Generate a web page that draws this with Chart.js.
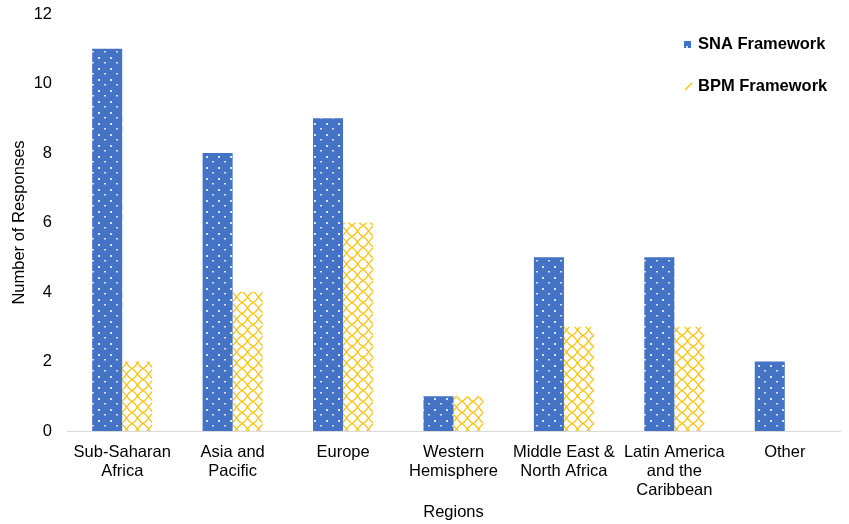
<!DOCTYPE html>
<html>
<head>
<meta charset="utf-8">
<script src="https://cdn.jsdelivr.net/npm/chart.js@4/dist/chart.umd.min.js"></script>
<style>
  html, body { margin: 0; padding: 0; background: #fff; }
  #wrap { width: 849px; height: 524px; }
</style>
</head>
<body>
<div id="wrap"><canvas id="regionChart"></canvas></div>
<script>
const regions = [
    ['Sub-Saharan', 'Africa'],
    ['Asia and', 'Pacific'],
    'Europe',
    ['Western', 'Hemisphere'],
    ['Middle East &', 'North Africa'],
    ['Latin America', 'and the', 'Caribbean'],
    'Other'
];
const snaValues = [11, 8, 9, 1, 5, 5, 2];
const bpmValues = [2, 4, 6, 1, 3, 3, 0];
const seriesNames = ['SNA Framework', 'BPM Framework'];

const FONT = '"Liberation Sans", Arial, sans-serif';

// dotted blue fill
function dotPattern() {
    const c = document.createElement('canvas');
    c.width = 12; c.height = 11;
    const g = c.getContext('2d');
    g.fillStyle = '#4472C4';
    g.fillRect(0, 0, 12, 11);
    g.fillStyle = 'rgba(255,255,255,0.8)';
    g.fillRect(2, 2, 2, 2);
    g.fillRect(8, 7, 2, 1.5);
    return g.createPattern(c, 'repeat');
}

// yellow lattice fill
function latticePattern() {
    const c = document.createElement('canvas');
    c.width = 11; c.height = 11;
    const g = c.getContext('2d');
    g.fillStyle = '#ffffff';
    g.fillRect(0, 0, 11, 11);
    g.strokeStyle = '#FFC000';
    g.lineWidth = 1.3;
    g.beginPath();
    g.moveTo(0, 5.5); g.quadraticCurveTo(3.5, 3.5, 5.5, 0);
    g.moveTo(5.5, 0); g.quadraticCurveTo(7.5, 3.5, 11, 5.5);
    g.moveTo(11, 5.5); g.quadraticCurveTo(7.5, 7.5, 5.5, 11);
    g.moveTo(5.5, 11); g.quadraticCurveTo(3.5, 7.5, 0, 5.5);
    g.stroke();
    return g.createPattern(c, 'repeat');
}

const ctx = document.getElementById('regionChart').getContext('2d');
const fills = [dotPattern(), latticePattern()];

const legendPlugin = {
    id: 'sideLegend',
    afterDraw(chart) {
        const c = chart.ctx;
        c.save();
        c.font = 'bold 16.5px ' + FONT;
        c.textBaseline = 'middle';
        const ys = [44, 86];
        // SNA marker
        c.fillStyle = fills[0];
        c.fillRect(684, ys[0] - 3, 7, 7);
        // BPM marker: a piece of the lattice
        c.strokeStyle = '#FFC000';
        c.lineWidth = 1.2;
        c.beginPath();
        c.moveTo(685, ys[1] + 4);
        c.lineTo(692, ys[1] - 3);
        c.stroke();
        c.fillStyle = '#000';
        seriesNames.forEach((name, i) => {
            c.fillText(name, 698, ys[i]);
        });
        c.restore();
    }
};

new Chart(ctx, {
    type: 'bar',
    data: {
        labels: regions,
        datasets: [
            {
                label: seriesNames[0],
                data: snaValues,
                backgroundColor: fills[0],
                borderWidth: 0
            },
            {
                label: seriesNames[1],
                data: bpmValues,
                backgroundColor: fills[1],
                borderWidth: 0
            }
        ]
    },
    options: {
        responsive: true,
        maintainAspectRatio: false,
        animation: false,
        layout: { padding: { top: 14, right: 9, left: 0, bottom: 0 } },
        plugins: {
            legend: { display: false },
            tooltip: { enabled: false }
        },
        datasets: {
            bar: { categoryPercentage: 0.544, barPercentage: 1 }
        },
        scales: {
            x: {
                afterFit(scale) { scale.height = 93; },
                grid: { display: false, drawTicks: false },
                border: { display: true, color: '#D9D9D9', width: 1 },
                ticks: {
                    color: '#000',
                    font: { family: FONT, size: 16.5, lineHeight: 1.15 },
                    maxRotation: 0,
                    autoSkip: false,
                    padding: 12
                },
                title: {
                    display: true,
                    text: 'Regions',
                    color: '#000',
                    font: { family: FONT, size: 16.5 },
                    padding: { top: 0, bottom: 2 }
                }
            },
            y: {
                min: 0,
                max: 12,
                afterFit(scale) { scale.width = 67; scale.paddingTop = 0; },
                grid: { display: false, drawTicks: false },
                border: { display: false },
                ticks: {
                    stepSize: 2,
                    color: '#000',
                    font: { family: FONT, size: 16.5 },
                    padding: 15
                },
                title: {
                    display: true,
                    text: 'Number of Responses',
                    color: '#000',
                    font: { family: FONT, size: 16.5 },
                    padding: { top: 10, bottom: 0 }
                }
            }
        }
    },
    plugins: [legendPlugin]
});
</script>
</body>
</html>
